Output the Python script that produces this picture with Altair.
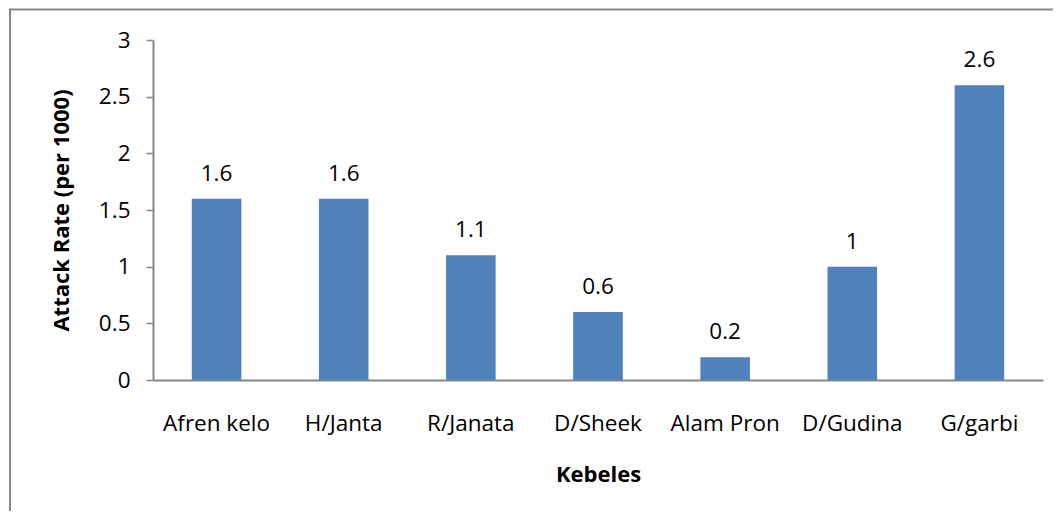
import altair as alt
import pandas as pd

categories = ["Afren kelo", "H/Janta", "R/Janata", "D/Sheek", "Alam Pron", "D/Gudina", "G/garbi"]
values = [1.6, 1.6, 1.1, 0.6, 0.2, 1.0, 2.6]
y_ticks = [0, 0.5, 1, 1.5, 2, 2.5, 3]

df = pd.DataFrame({"Kebeles": categories, "rate": values})
frame_df = pd.DataFrame({"k": [0]})

FONT = "Open Sans"
GRAY = "#868686"

x_enc = alt.X("Kebeles:N", sort=categories,
              scale=alt.Scale(paddingInner=0.61, paddingOuter=0.305),
              axis=alt.Axis(title="Kebeles", labelAngle=0, ticks=False,
                            domainColor=GRAY, domainWidth=2,
                            labelFont=FONT, labelFontSize=22.5, labelColor="black",
                            labelPadding=32, titleFont=FONT, titleFontSize=22,
                            titleFontWeight="bold", titleColor="black", titlePadding=30))
y_enc = alt.Y("rate:Q", scale=alt.Scale(domain=[0, 3], nice=False),
              axis=alt.Axis(title="Attack Rate (per 1000)", values=y_ticks, format="~g",
                            grid=False, domainColor=GRAY, domainWidth=2,
                            tickColor=GRAY, tickSize=7, tickWidth=1.5,
                            labelFont=FONT, labelFontSize=22.5, labelColor="black",
                            labelPadding=16, titleFont=FONT, titleFontSize=22,
                            titleFontWeight="bold", titleColor="black", titlePadding=25))

bars = alt.Chart(df).mark_bar(color="#4F81BD").encode(x=x_enc, y=y_enc)
labels = alt.Chart(df).mark_text(dy=-25, font=FONT, fontSize=22.5, color="black").encode(
    x=alt.X("Kebeles:N", sort=categories), y="rate:Q", text=alt.Text("rate:Q", format="~g"))

top_rule = alt.Chart(frame_df).mark_rule(color=GRAY, strokeWidth=2).encode(
    x=alt.value(-143), x2=alt.value(910), y=alt.value(-30.5))
left_rule = alt.Chart(frame_df).mark_rule(color=GRAY, strokeWidth=2).encode(
    x=alt.value(-143), y=alt.value(-31.5), y2=alt.value(500))

chart = alt.layer(bars, labels, top_rule, left_rule).properties(
    width=890, height=340,
    autosize=alt.AutoSizeParams(type="none"),
    padding={"left": 145, "top": 32, "right": 10, "bottom": 131},
).configure_view(stroke=None)

chart.save("out.html", embed_options={"renderer": "svg", "actions": False})
